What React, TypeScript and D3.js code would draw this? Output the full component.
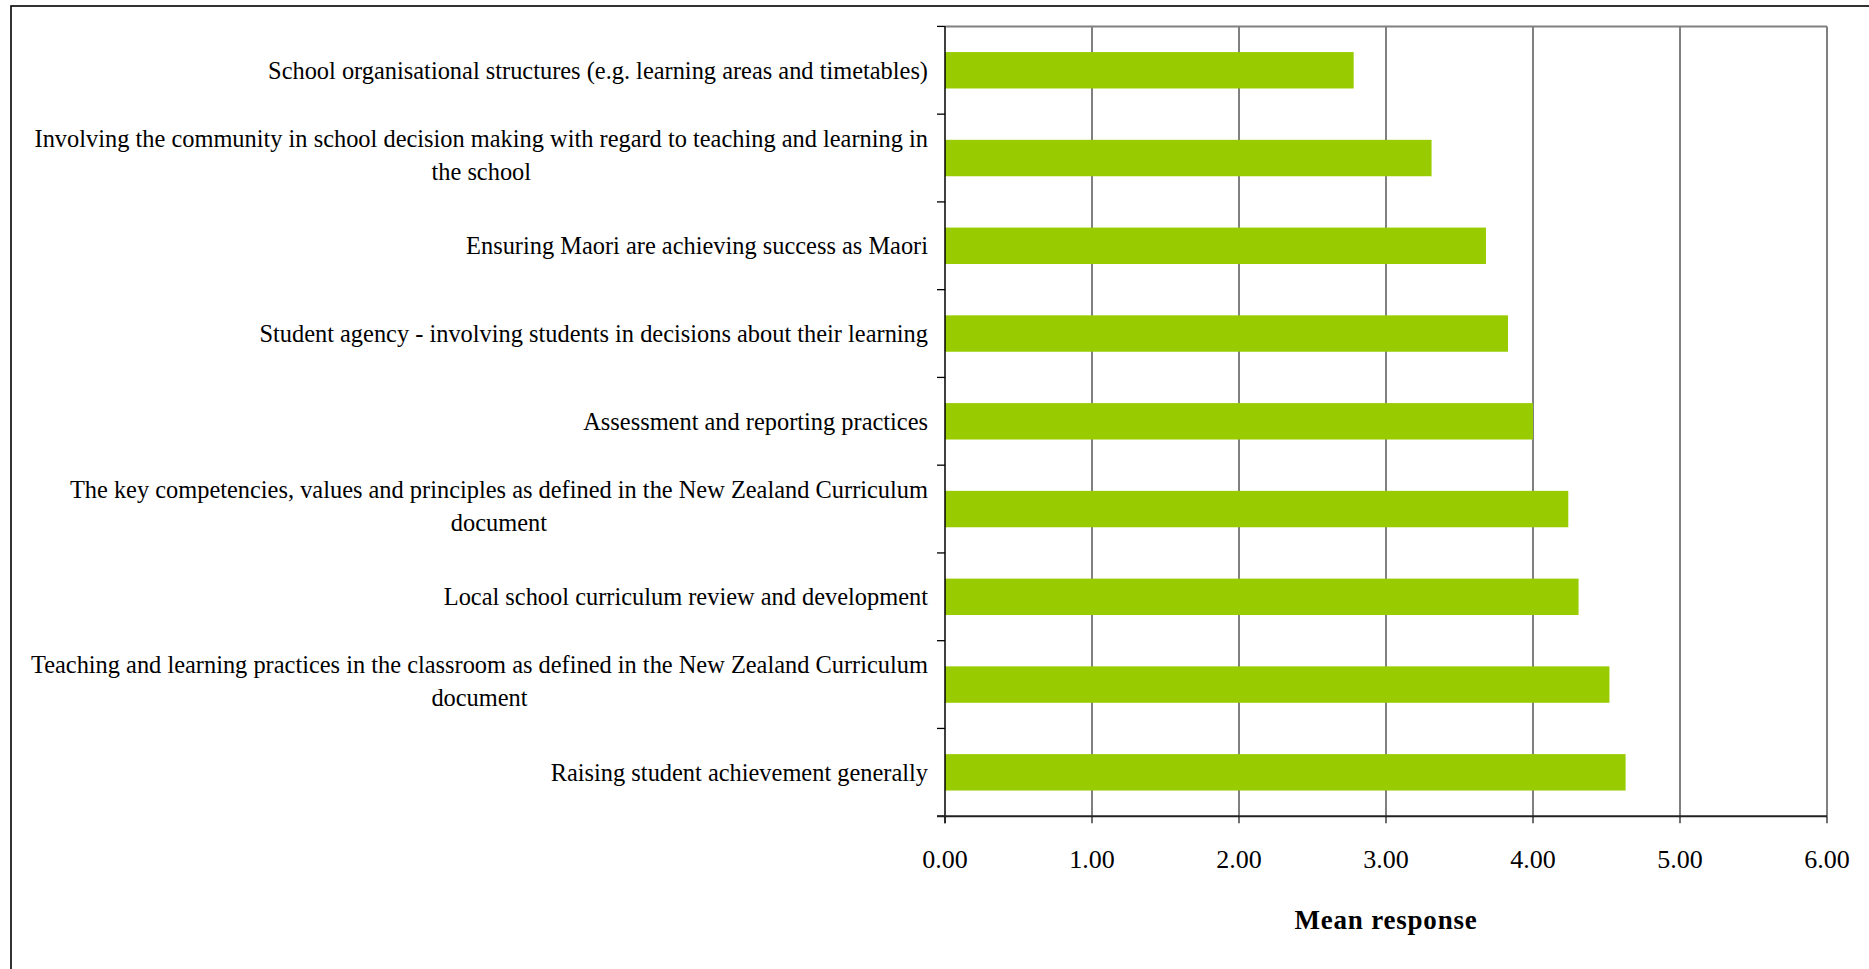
import React from "react";
import * as d3 from "d3";

// ---- data ----
const categories: string[] = [
  "School organisational structures (e.g. learning areas and timetables)",
  "Involving the community in school decision making with regard to teaching and learning in\nthe school",
  "Ensuring Maori are achieving success as Maori",
  "Student agency - involving students in decisions about their learning",
  "Assessment and reporting practices",
  "The key competencies, values and principles as defined in the New Zealand Curriculum\ndocument",
  "Local school curriculum review and development",
  "Teaching and learning practices in the classroom as defined in the New Zealand Curriculum\ndocument",
  "Raising student achievement generally",
];
const meanValues: number[] = [2.78, 3.31, 3.68, 3.83, 4.0, 4.24, 4.31, 4.52, 4.63];
const xTicks: number[] = [0, 1, 2, 3, 4, 5, 6];
const xAxisTitle = "Mean response";

// ---- layout ----
const W = 1869;
const H = 969;
const plot = { left: 945, right: 1827, top: 26.4, bottom: 816.2 };
const labelRight = 928;
const FONT = "'Liberation Serif', 'Times New Roman', serif";
const LABEL_SIZE = 24.4;
const LINE_GAP = 32.7;

let measureCtx: CanvasRenderingContext2D | null = null;
function measure(text: string, size: number, weight = "normal"): number {
  if (!measureCtx) {
    const c = document.createElement("canvas");
    measureCtx = c.getContext("2d");
  }
  if (!measureCtx) return text.length * size * 0.45;
  measureCtx.font = `${weight} ${size}px ${FONT}`;
  return measureCtx.measureText(text).width;
}

export default function App() {
  React.useEffect(() => {
    document.body.style.margin = "0";
    document.body.style.overflow = "hidden";
  }, []);

  const x = d3.scaleLinear().domain([0, 6]).range([plot.left, plot.right]);
  const y = d3
    .scaleBand<string>()
    .domain(categories)
    .range([plot.top, plot.bottom])
    .paddingInner(0.585)
    .paddingOuter(0.2925);
  const step = y.step();
  const boundaries = d3.range(categories.length + 1).map(
    (i) => plot.top + i * step
  );

  return (
    <svg
      width={W}
      height={H}
      style={{ position: "absolute", left: 0, top: 0, background: "#fff" }}
      fontFamily={FONT}
    >
      <rect x={0} y={0} width={W} height={H} fill="#fff" />
      {/* outer chart border */}
      <rect x={11} y={6} width={W + 20} height={H + 20} fill="none" stroke="#000" strokeWidth={1.6} />

      {/* gridlines */}
      {xTicks.slice(1, -1).map((t) => (
        <line key={"g" + t} x1={x(t)} x2={x(t)} y1={plot.top} y2={plot.bottom} stroke="#3c3c3c" strokeWidth={1.3} />
      ))}
      {/* plot area border (top/right) */}
      <line x1={plot.left} x2={plot.right} y1={plot.top} y2={plot.top} stroke="#808080" strokeWidth={2} />
      <line x1={plot.right} x2={plot.right} y1={plot.top} y2={plot.bottom} stroke="#808080" strokeWidth={2} />

      {/* bars */}
      {categories.map((c, i) => (
        <rect
          key={"b" + i}
          x={x(0)}
          y={y(c)!}
          width={x(meanValues[i]) - x(0)}
          height={y.bandwidth()}
          fill="#99CC00"
        />
      ))}

      {/* y axis */}
      <line x1={plot.left} x2={plot.left} y1={plot.top} y2={plot.bottom + 7} stroke="#000" strokeWidth={1.5} />
      {boundaries.map((b, i) => (
        <line key={"yt" + i} x1={plot.left - 8} x2={plot.left} y1={b} y2={b} stroke="#000" strokeWidth={1.3} />
      ))}
      {/* x axis */}
      <line x1={plot.left - 8} x2={plot.right} y1={plot.bottom} y2={plot.bottom} stroke="#222" strokeWidth={2} />
      {xTicks.map((t) => (
        <line key={"xt" + t} x1={x(t)} x2={x(t)} y1={plot.bottom} y2={plot.bottom + 7} stroke="#222" strokeWidth={1.3} />
      ))}
      {xTicks.map((t) => (
        <text key={"xl" + t} x={x(t)} y={868} textAnchor="middle" fontSize={26} fill="#000">
          {d3.format(".2f")(t)}
        </text>
      ))}
      <text
        x={(plot.left + plot.right) / 2}
        y={929}
        textAnchor="middle"
        fontSize={27}
        fontWeight="bold"
        letterSpacing={0.8}
        fill="#000"
      >
        {xAxisTitle}
      </text>

      {/* category labels */}
      {categories.map((c, i) => {
        const lines = c.split("\n");
        const widths = lines.map((l) => measure(l, LABEL_SIZE));
        const maxW = Math.max(...widths);
        const cx = labelRight - maxW / 2;
        const center = y(c)! + y.bandwidth() / 2;
        const n = lines.length;
        const base = center + 8.5 - 3.3 * (n - 1);
        return (
          <g key={"cl" + i}>
            {lines.map((l, j) => (
              <text
                key={j}
                x={n === 1 ? labelRight : cx}
                y={base + (j - (n - 1) / 2) * LINE_GAP}
                textAnchor={n === 1 ? "end" : "middle"}
                fontSize={LABEL_SIZE}
                fill="#000"
              >
                {l}
              </text>
            ))}
          </g>
        );
      })}
    </svg>
  );
}
